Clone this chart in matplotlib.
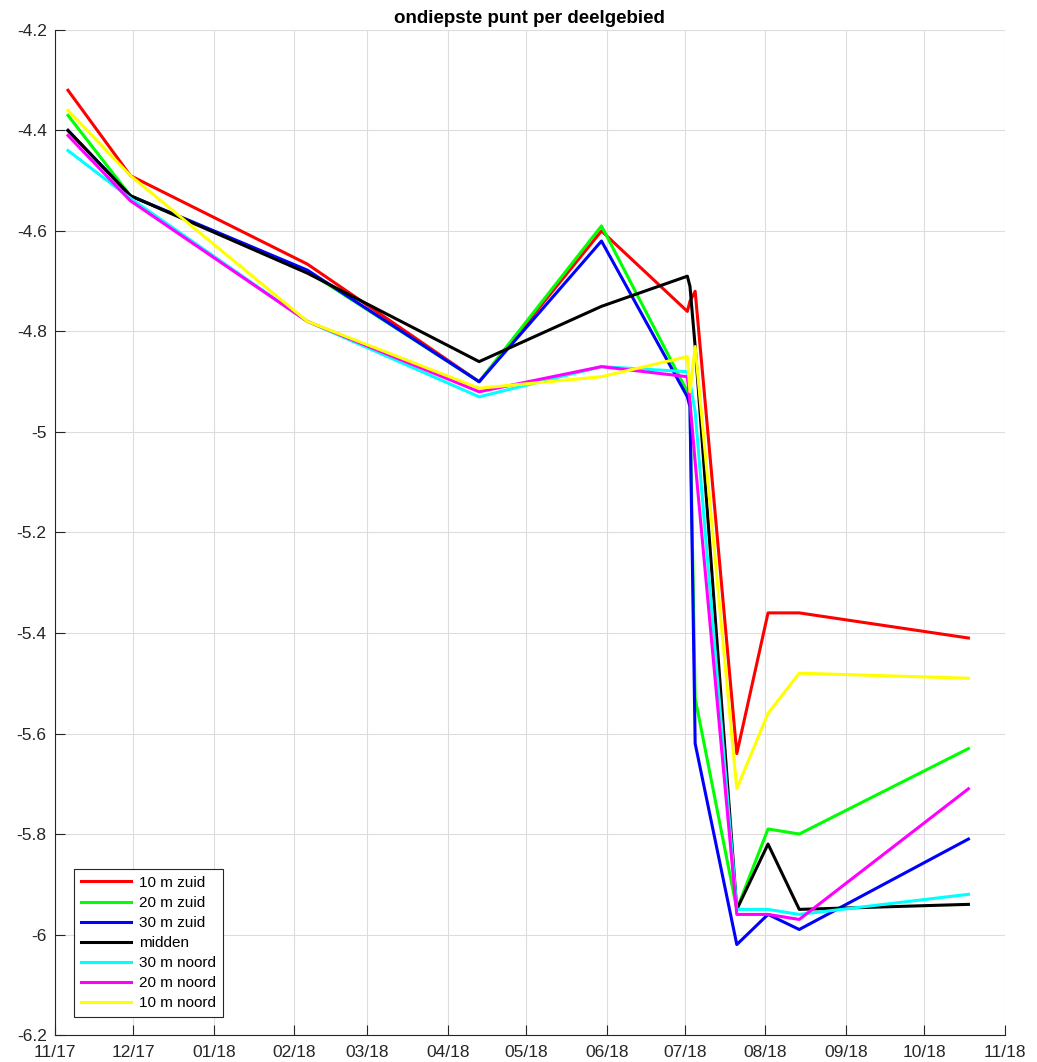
import numpy as np
import matplotlib
matplotlib.use('Agg')
import matplotlib.pyplot as plt
import matplotlib.dates as mdates
from datetime import datetime

plt.rcParams['font.family'] = ['Liberation Sans', 'DejaVu Sans']

# meetdata
datums = ['2017-11-06', '2017-11-30', '2018-02-06', '2018-04-13', '2018-05-30', '2018-07-02',
          '2018-07-03', '2018-07-05', '2018-07-21', '2018-08-02', '2018-08-14', '2018-10-18']

zuid_10 = [-4.32, -4.49, -4.666, -4.90, -4.60, -4.76, -4.74, -4.72, -5.64, -5.36, -5.36, -5.41]
zuid_20 = [-4.37, -4.53, -4.68, -4.90, -4.59, -4.92, -4.94, -5.53, -5.95, -5.79, -5.80, -5.63]
zuid_30 = [-4.40, -4.53, -4.678, -4.90, -4.62, -4.93, -4.95, -5.62, -6.02, -5.96, -5.99, -5.81]
midden = [-4.40, -4.53, -4.684, -4.86, -4.75, -4.69, -4.71, -4.83, -5.95, -5.82, -5.95, -5.94]
noord_30 = [-4.44, -4.535, -4.78, -4.93, -4.87, -4.88, -4.90, -4.96, -5.95, -5.95, -5.96, -5.92]
noord_20 = [-4.41, -4.54, -4.78, -4.92, -4.87, -4.89, -4.94, -5.06, -5.96, -5.96, -5.97, -5.71]
noord_10 = [-4.36, -4.49, -4.78, -4.913, -4.89, -4.85, -4.92, -4.83, -5.71, -5.56, -5.48, -5.49]

reeksen = [zuid_10, zuid_20, zuid_30, midden, noord_30, noord_20, noord_10]
namen = ['10 m zuid', '20 m zuid', '30 m zuid', 'midden', '30 m noord', '20 m noord', '10 m noord']
kleuren = ['#ff0000', '#00ff00', '#0000ff', '#000000', '#00ffff', '#ff00ff', '#ffff00']

y_ticks = [-6.2, -6.0, -5.8, -5.6, -5.4, -5.2, -5.0, -4.8, -4.6, -4.4, -4.2]
y_labels = ['-6.2', '-6', '-5.8', '-5.6', '-5.4', '-5.2', '-5', '-4.8', '-4.6', '-4.4', '-4.2']

x = [datetime.strptime(d, '%Y-%m-%d') for d in datums]

fig = plt.figure(figsize=(10.37, 10.62), dpi=100)
ax = fig.add_axes([0.053, 0.0254, 0.916, 0.9464])

for reeks, naam, kleur in zip(reeksen, namen, kleuren):
    ax.plot(x, reeks, color=kleur, linewidth=2.2, label=naam)

# assen
ax.set_xlim(datetime(2017, 11, 1), datetime(2018, 11, 1))
ax.set_ylim(-6.2, -4.2)
ax.xaxis.set_major_locator(mdates.MonthLocator())
ax.xaxis.set_major_formatter(mdates.DateFormatter('%m/%y'))
ax.set_yticks(y_ticks)
ax.set_yticklabels(y_labels)
ax.tick_params(direction='in', length=7, width=0.8, labelsize=12.5, colors='#262626')
ax.tick_params(axis='x', pad=7)
ax.tick_params(axis='y', pad=6)

ax.spines['top'].set_visible(False)
ax.spines['right'].set_visible(False)
for s in ['left', 'bottom']:
    ax.spines[s].set_color('#262626')
    ax.spines[s].set_linewidth(0.8)

ax.grid(True, color='#dddddd', linewidth=0.8)
ax.set_axisbelow(True)

ax.set_title('ondiepste punt per deelgebied', fontsize=13.5, fontweight='bold', pad=5)

leg = ax.legend(loc='lower left', bbox_to_anchor=(0.012, 0.01), fontsize=11, fancybox=False,
                framealpha=1, edgecolor='#262626', handlelength=3.3, labelspacing=0.4,
                borderpad=0.45, handletextpad=0.5)
leg.get_frame().set_linewidth(0.8)

plt.savefig('out.png', dpi=100)
